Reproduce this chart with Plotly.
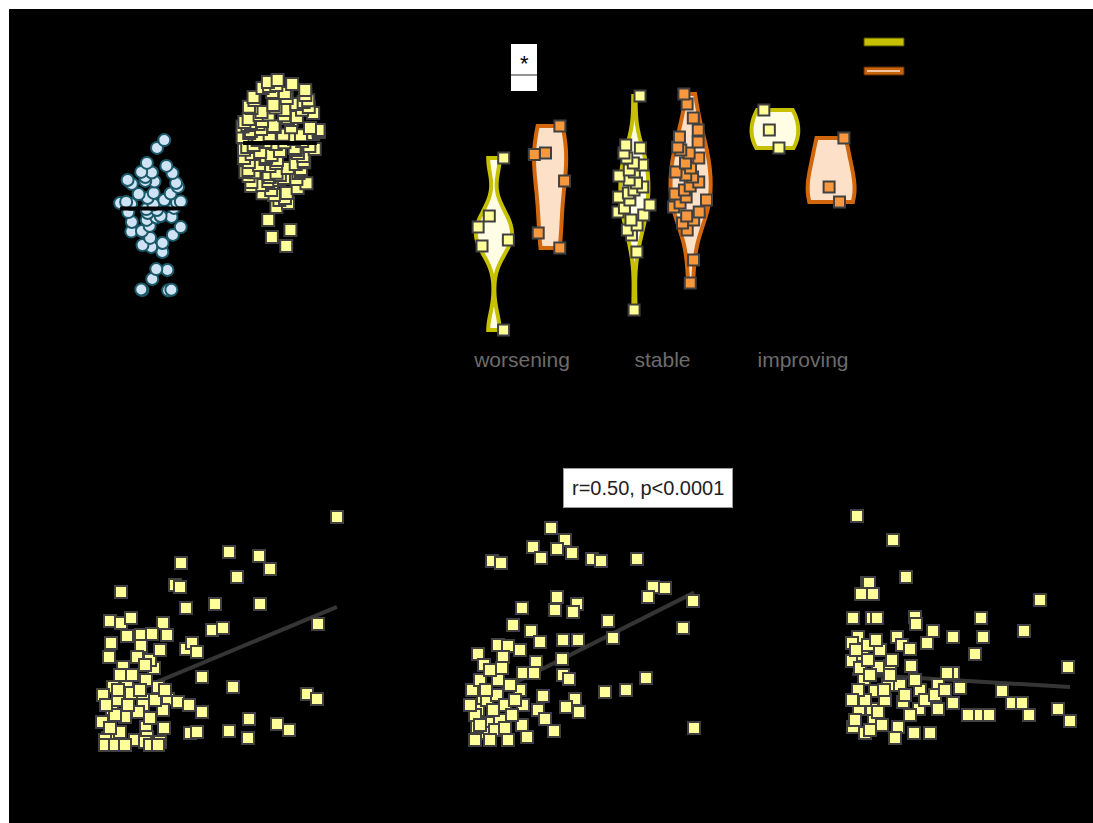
import numpy as np
import plotly.graph_objects as go

# ---------------- data ----------------
# Panel A: two groups of scores (strip plot with median bar)
grp1_scores = [68.3, 65.7, 60.7, 59.7, 57.7, 57.3, 56.0, 57.5, 55.0, 54.7, 54.5, 53.7, 54.0,
               52.7, 50.7, 50.5, 50.3, 49.0, 47.7, 48.3, 47.5, 47.3, 47.8, 47.0, 46.8, 45.7,
               45.3, 45.0, 42.7, 41.7, 43.0, 44.0, 42.5, 39.3, 38.0, 39.7, 37.8, 33.3, 32.7,
               34.0, 31.0, 25.0, 25.3, 22.0, 18.3, 18.2, 18.4, 18.5, 44.3, 41.0, 36.7, 35.7]
grp2_scores = [87.7, 88.3, 85.7, 86.7, 84.3, 81.7, 82.7, 81.6, 79.3, 78.3, 79.4, 79.2, 78.4,
               76.7, 76.6, 76.8, 76.0, 75.0, 72.7, 72.3, 74.0, 72.6, 72.8, 73.3, 69.3, 70.7,
               70.0, 70.1, 69.9, 87.0, 86.3, 85.0, 84.0, 83.3, 82.3, 81.0, 80.3, 80.0, 79.0,
               77.7, 77.3, 75.7, 75.3, 74.7, 74.3, 73.7, 73.0, 72.0, 71.7, 71.3, 71.0, 70.3,
               69.7, 69.0, 68.7, 68.3, 68.0, 67.7, 67.6,
               64.3, 65.0, 65.1, 64.0, 62.7, 60.7, 61.0, 61.7, 60.9, 62.3, 57.7, 57.6, 56.7,
               57.3, 56.0, 57.4, 54.3, 54.0, 53.9, 53.3, 50.7, 48.3, 50.6, 47.3, 46.0, 41.7,
               38.3, 36.0, 33.0, 67.0, 66.7, 66.3, 66.0, 65.7, 65.3, 64.7, 63.7, 63.3, 63.0,
               62.0, 61.3, 60.3, 60.0, 59.7, 59.0, 58.7, 58.3, 58.0, 57.0, 56.3, 55.7, 55.3,
               55.0, 54.7, 53.0, 52.3, 51.7, 50.0, 49.0]

# Panel B: scores by trajectory category, two series
categories = ["worsening", "stable", "improving"]
series_a = {
    "worsening": [62.3, 43.0, 39.3, 35.0, 33.0, 5.0],
    "stable": [83.0, 66.7, 65.7, 64.0, 62.3, 60.7, 60.0, 58.3, 57.7, 56.3, 55.0, 54.0, 52.7,
               51.7, 50.7, 49.3, 48.3, 46.7, 45.7, 44.3, 43.3, 41.7, 40.0, 38.3, 36.7, 31.0, 11.7],
    "improving": [78.3, 71.7, 65.7],
}
series_b = {
    "worsening": [73.0, 64.0, 63.5, 54.7, 37.3, 32.3],
    "stable": [83.7, 80.3, 75.7, 71.7, 69.3, 67.7, 66.0, 65.0, 64.0, 62.3, 60.7, 59.0, 57.7,
               56.7, 56.0, 54.3, 53.0, 51.7, 50.3, 49.3, 48.3, 47.3, 46.0, 44.3, 43.0, 41.7,
               40.7, 38.3, 28.3, 20.7],
    "improving": [69.0, 52.7, 47.7],
}

# Panels C-E: paired measurements
c_x = [24.7, 13.9, 16.9, 18.0, 9.1, 14.7, 8.5, 9.0, 3.1, 9.6, 12.5, 17.0, 2.0, 3.1, 4.1, 7.3,
       12.2, 13.3, 22.8, 3.7, 5.1, 6.2, 7.7, 2.1, 5.1, 9.6, 10.2, 10.7, 1.9, 4.7, 3.3, 6.4,
       11.2, 14.3, 21.7, 22.7, 3.7, 5.6, 6.8, 2.3, 4.1, 5.3, 7.8, 8.8, 9.9, 11.2, 2.2, 3.5,
       5.3, 7.3, 1.2, 15.9, 18.7, 19.9, 5.6, 7.4, 10.0, 10.7, 13.9, 15.8, 1.8, 3.0, 5.7, 7.0,
       1.5, 2.0, 2.5, 2.8, 1.3, 4.5, 5.5, 6.0, 4.8, 3.8, 2.8, 1.6, 6.5, 7.5, 5.0, 4.2, 3.0,
       6.0, 7.0, 5.5, 1.5, 2.5, 6.0, 6.8, 3.5]
c_y = [24.3, 20.8, 20.4, 19.1, 19.7, 18.3, 17.5, 17.3, 16.8, 15.2, 15.6, 15.6, 13.9, 13.7,
       14.2, 13.7, 13.0, 13.2, 13.6, 12.4, 12.5, 12.6, 12.5, 11.7, 11.4, 11.1, 11.7, 10.8,
       10.3, 10.3, 9.3, 9.2, 8.3, 7.3, 6.6, 6.1, 7.9, 8.0, 7.3, 7.3, 6.7, 6.0, 6.1, 5.8, 5.5,
       4.8, 5.1, 4.3, 5.5, 5.0, 3.8, 4.1, 3.6, 3.0, 3.3, 3.2, 2.7, 2.8, 2.9, 2.2, 2.2, 2.8,
       2.3, 1.8, 2.0, 3.2, 4.5, 6.0, 6.5, 2.0, 1.8, 4.2, 4.8, 5.5, 7.0, 5.5, 6.0, 7.0, 7.0,
       8.5, 8.5, 10.0, 11.0, 9.5, 1.5, 1.5, 1.5, 1.5, 1.5]

d_x = [9.1, 10.5, 7.3, 9.7, 11.2, 8.1, 3.2, 4.1, 13.2, 14.1, 17.7, 19.3, 20.5, 18.8, 23.3,
       9.7, 11.7, 9.5, 11.3, 6.2, 14.8, 22.3, 5.3, 7.1, 15.3, 8.0, 10.3, 11.8, 3.8, 4.8, 6.0,
       1.8, 7.6, 10.2, 2.4, 4.3, 6.3, 7.4, 10.3, 10.9, 18.6, 3.8, 14.5, 16.6, 8.3, 11.5, 10.6,
       11.9, 2.3, 1.8, 6.3, 6.0, 7.8, 8.5, 2.8, 4.0, 6.2, 9.4, 6.7, 23.4, 2.3, 1.7,
       1.2, 1.5, 2.0, 2.7, 3.0, 3.3, 3.7, 4.5, 5.0, 5.2, 2.6, 3.5, 4.5, 1.0, 5.5, 4.2, 2.0,
       3.0, 4.8, 1.5]
d_y = [23.2, 22.0, 21.3, 21.1, 20.7, 20.2, 19.9, 19.7, 20.1, 19.9, 20.1, 17.3, 17.2, 16.3,
       15.9, 16.3, 15.6, 15.0, 14.8, 15.2, 13.9, 13.2, 13.5, 12.9, 12.2, 11.8, 12.0, 12.0,
       11.5, 11.4, 11.0, 10.6, 9.8, 10.1, 9.5, 10.3, 8.7, 8.7, 8.5, 8.1, 8.2, 8.0, 6.8, 7.0,
       6.4, 6.1, 5.3, 4.8, 6.0, 5.0, 5.5, 7.0, 5.0, 4.1, 3.7, 4.0, 3.5, 2.9, 2.3, 3.2, 2.7,
       3.3, 7.0, 4.5, 8.0, 6.0, 9.0, 5.0, 6.5, 5.5, 7.5, 4.5, 7.0, 3.0, 3.2, 5.5, 6.0, 9.2,
       3.5, 2.0, 2.0, 2.0]

e_x = [1.7, 5.3, 6.6, 2.7, 2.9, 2.1, 3.3, 20.0, 1.3, 3.2, 3.7, 7.5, 7.6, 14.1, 9.3, 18.4,
       11.3, 14.3, 5.7, 1.8, 1.2, 6.2, 7.0, 8.7, 13.5, 22.8, 1.2, 2.3, 3.8, 5.0, 7.1, 11.3,
       10.7, 2.4, 4.8, 6.0, 8.0, 9.8, 16.2, 3.5, 17.2, 18.2, 11.3, 6.3, 1.9, 3.2, 7.9, 9.8,
       21.8, 12.8, 14.0, 14.9, 18.9, 23.0, 3.4, 5.8, 1.3, 2.5, 7.4, 9.0, 5.5,
       1.6, 2.0, 2.5, 3.0, 4.0, 4.5, 5.2, 2.8, 1.8, 3.8, 5.0, 6.5, 7.5, 8.5, 9.5, 10.5, 12.0,
       1.5, 3.0, 4.2, 7.0, 2.8, 3.6, 4.4, 1.2]
e_y = [24.4, 22.0, 18.3, 17.7, 17.7, 16.6, 16.6, 16.0, 14.2, 14.2, 14.2, 14.3, 13.6, 14.2,
       12.9, 12.9, 12.3, 12.3, 12.3, 12.3, 11.7, 11.5, 11.1, 11.7, 10.6, 9.3, 9.9, 10.5, 9.3,
       9.4, 9.4, 8.7, 8.7, 8.1, 7.5, 7.5, 7.0, 7.5, 6.9, 6.9, 5.7, 5.7, 5.7, 5.8, 5.1, 5.1,
       5.1, 5.1, 5.1, 4.5, 4.5, 4.5, 4.5, 3.9, 3.9, 3.3, 3.3, 2.7, 2.7, 2.7, 2.2,
       11.0, 9.2, 6.0, 8.5, 11.0, 6.0, 10.0, 10.0, 7.0, 4.8, 8.5, 6.5, 8.0, 6.0, 6.5, 7.0, 7.2,
       4.0, 3.0, 3.5, 4.5, 11.5, 12.0, 7.0, 6.0]

# linear-fit coefficients (slope, intercept) for panels C, D, E
fit_c = (0.417, 5.01)
fit_d = (0.503, 4.97)
fit_e = (-0.060, 8.68)

corr_label = "r=0.50, p<0.0001"

# ---------------- styling ----------------
FIG_W, FIG_H = 1093, 823
BG = "#000000"
YEL_FILL, SQ_EDGE = "#ffff99", "#404040"
A_LINE, A_FILL = "#c6c000", "#fffde4"
B_LINE, B_FILL, B_PT = "#d2660c", "#fde0c8", "#f7983e"


def fx(p):
    """Pixel column -> paper fraction."""
    return p / FIG_W


def fy(p):
    """Pixel row (from top) -> paper fraction."""
    return 1 - p / FIG_H


sq_marker = dict(symbol="square", size=12, color=YEL_FILL, line=dict(color=SQ_EDGE, width=2))

fig = go.Figure()

# ---- Panel A: strip plots with median bars ----
fig.add_trace(go.Box(
    y=grp1_scores, x0=0, width=0.66, boxpoints="all", jitter=1.0, pointpos=0,
    fillcolor="rgba(0,0,0,0)", line=dict(width=0, color="rgba(0,0,0,0)"),
    marker=dict(symbol="circle", size=12, color="#cfe3f5", line=dict(color="#1b5a69", width=2)),
    xaxis="x", yaxis="y", showlegend=False))
fig.add_trace(go.Box(
    y=grp2_scores, x0=1, width=0.66, boxpoints="all", jitter=1.0, pointpos=0,
    fillcolor="rgba(0,0,0,0)", line=dict(width=0, color="rgba(0,0,0,0)"),
    marker=sq_marker, xaxis="x", yaxis="y", showlegend=False))
for pos, vals in [(0, grp1_scores), (1, grp2_scores)]:
    med = float(np.median(vals))
    fig.add_trace(go.Scatter(x=[pos - 0.3, pos + 0.3], y=[med, med], mode="lines",
                             line=dict(color="#000000", width=4),
                             xaxis="x", yaxis="y", showlegend=False, hoverinfo="skip"))

# ---- Panel B: grouped violins ----
for data, lc, fc, pc in [(series_a, A_LINE, A_FILL, YEL_FILL), (series_b, B_LINE, B_FILL, B_PT)]:
    xs, ys = [], []
    for cat in categories:
        xs += [cat] * len(data[cat])
        ys += data[cat]
    fig.add_trace(go.Violin(
        x=xs, y=ys, spanmode="hard", points="all", pointpos=0, jitter=0.8,
        line=dict(color=lc, width=4), fillcolor=fc,
        marker=dict(symbol="square", size=11, color=pc, line=dict(color=SQ_EDGE, width=2)),
        xaxis="x2", yaxis="y2", showlegend=False))

# ---- Panels C-E: scatter with fitted line ----
for (xv, yv, (k, b), ax) in [(c_x, c_y, fit_c, "3"), (d_x, d_y, fit_d, "4"), (e_x, e_y, fit_e, "5")]:
    xa, ya = np.array(xv), np.array(yv)
    xl = np.array([xa.min(), xa.max()])
    fig.add_trace(go.Scatter(x=xl, y=k * xl + b, mode="lines",
                             line=dict(color="#353535", width=4),
                             xaxis="x" + ax, yaxis="y" + ax, showlegend=False, hoverinfo="skip"))
    fig.add_trace(go.Scatter(x=xa, y=ya, mode="markers", marker=sq_marker,
                             xaxis="x" + ax, yaxis="y" + ax, showlegend=False))

hidden = dict(showgrid=False, zeroline=False, showline=False, showticklabels=False, ticks="")

top_y = [fy(345), fy(45)]
bot_y = [fy(760), fy(500)]

fig.update_layout(
    width=FIG_W, height=FIG_H, autosize=False,
    margin=dict(l=0, r=0, t=0, b=0),
    paper_bgcolor=BG, plot_bgcolor=BG,
    font=dict(family="Arial, Liberation Sans, sans-serif", color="#000000"),
    violinmode="group", violingap=0.2, violingroupgap=0.17,
    xaxis=dict(domain=[fx(157 - 0.7 * 123), fx(157 + 1.7 * 123)], range=[-0.7, 1.7], **hidden),
    yaxis=dict(domain=top_y, range=[0, 100], **hidden),
    xaxis2=dict(domain=[fx(451.75), fx(873.25)], range=[-0.5, 2.5], type="category",
                categoryorder="array", categoryarray=categories,
                showgrid=False, zeroline=False, showline=False, ticks="",
                tickfont=dict(size=21, color="#6c6c6c")),
    yaxis2=dict(domain=top_y, range=[0, 100], **hidden),
    xaxis3=dict(domain=[fx(90), fx(350)], range=[0, 26], **hidden),
    yaxis3=dict(domain=bot_y, range=[0, 26], **hidden),
    xaxis4=dict(domain=[fx(460), fx(720)], range=[0, 26], **hidden),
    yaxis4=dict(domain=bot_y, range=[0, 26], **hidden),
    xaxis5=dict(domain=[fx(840), fx(1090)], range=[0, 25], **hidden),
    yaxis5=dict(domain=bot_y, range=[0, 26], **hidden),
)

# white page frame along the top and left edges
fig.add_shape(type="rect", xref="paper", yref="paper", x0=0, x1=1, y0=fy(9), y1=1,
              fillcolor="#ffffff", line=dict(width=0), layer="above")
fig.add_shape(type="rect", xref="paper", yref="paper", x0=0, x1=fx(9), y0=0, y1=1,
              fillcolor="#ffffff", line=dict(width=0), layer="above")

# significance marker box above the "worsening" pair
fig.add_shape(type="rect", xref="paper", yref="paper",
              x0=fx(511), x1=fx(537), y0=fy(91), y1=fy(44),
              fillcolor="#ffffff", line=dict(width=0))
fig.add_shape(type="line", xref="paper", yref="paper",
              x0=fx(511), x1=fx(537), y0=fy(75), y1=fy(75),
              line=dict(color="#707070", width=1.5))
fig.add_annotation(text="*", xref="paper", yref="paper", x=fx(524), y=fy(63),
                   xanchor="center", yanchor="middle",
                   showarrow=False, font=dict(size=22, color="#000000"))

# legend swatches for the two violin series
fig.add_shape(type="rect", xref="paper", yref="paper",
              x0=fx(864), x1=fx(904), y0=fy(46), y1=fy(38),
              fillcolor=A_LINE, line=dict(color="#4a4a00", width=1))
fig.add_shape(type="rect", xref="paper", yref="paper",
              x0=fx(864), x1=fx(904), y0=fy(75), y1=fy(67),
              fillcolor="#c8640e", line=dict(color="#5a2a00", width=1))
fig.add_shape(type="line", xref="paper", yref="paper",
              x0=fx(867), x1=fx(900), y0=fy(71), y1=fy(71),
              line=dict(color="#f4c4a0", width=2))

# correlation label for the middle scatter panel
fig.add_annotation(text=corr_label, xref="paper", yref="paper", x=fx(648), y=fy(487.5),
                   xanchor="center", yanchor="middle", showarrow=False,
                   font=dict(size=20, color="#222222"),
                   bgcolor="#ffffff", bordercolor="#9a9a9a", borderwidth=1, borderpad=8)

fig.write_html("out.html")
